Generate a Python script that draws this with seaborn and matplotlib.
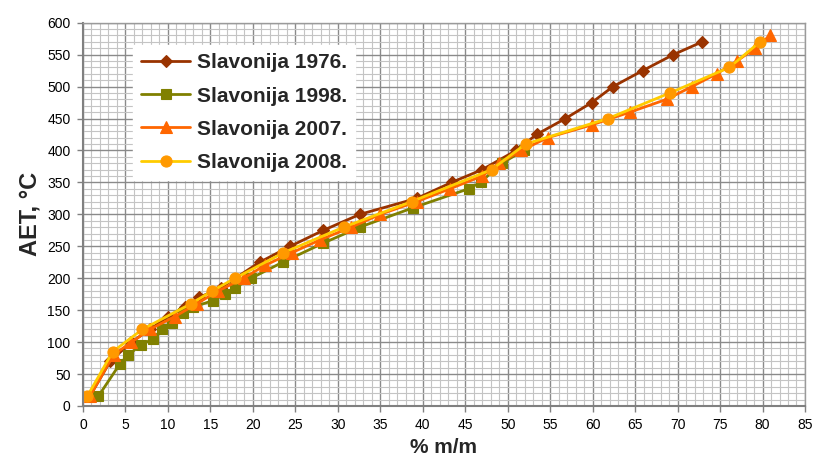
import numpy as np
import pandas as pd
import matplotlib
matplotlib.use("Agg")
import matplotlib.pyplot as plt
from matplotlib.ticker import MultipleLocator
import seaborn as sns

# Distillation curves: cumulative yield (% m/m) vs atmospheric equivalent temperature (°C)
x_1976 = [0.8, 3.2, 5.7, 7.9, 10.0, 12.0, 13.7, 16.2, 20.8, 24.4, 28.3, 32.6, 39.3,
          43.4, 47.0, 51.0, 53.4, 56.8, 59.9, 62.4, 65.9, 69.5, 72.9]
y_1976 = [15, 70, 100, 120, 140, 155, 170, 185, 225, 250, 275, 300, 325,
          350, 370, 400, 425, 450, 475, 500, 525, 550, 570]

x_1998 = [1.8, 4.3, 5.3, 6.8, 8.2, 9.3, 10.5, 11.8, 13.0, 15.3, 16.7, 17.9, 19.8,
          23.5, 28.3, 32.6, 38.8, 45.4, 46.8, 49.3, 51.9]
y_1998 = [15, 65, 80, 95, 105, 120, 130, 145, 155, 165, 175, 185, 200,
          225, 255, 280, 310, 340, 350, 380, 400]

x_2007 = [0.8, 3.6, 5.7, 7.9, 10.8, 13.4, 15.9, 18.9, 21.4, 24.6, 27.9, 31.6, 35.0,
          39.3, 43.2, 47.0, 49.0, 51.6, 54.7, 59.9, 64.4, 68.7, 71.7, 74.6, 77.0,
          79.1, 80.9]
y_2007 = [15, 80, 100, 120, 140, 160, 180, 200, 220, 240, 260, 280, 300,
          320, 340, 360, 380, 400, 420, 440, 460, 480, 500, 520, 540,
          560, 580]

x_2008 = [0.5, 3.5, 7.0, 12.7, 15.2, 17.9, 23.6, 30.7, 38.7, 48.1, 52.1, 61.8,
          69.1, 76.1, 79.7]
y_2008 = [15, 85, 120, 160, 180, 200, 240, 280, 320, 370, 410, 450,
          490, 530, 570]

series = [
    ("Slavonija 1976.", x_1976, y_1976, dict(color="#993300", marker="D", markersize=6.5,
                                           markerfacecolor="#993300", markeredgecolor="#993300")),
    ("Slavonija 1998.", x_1998, y_1998, dict(color="#808000", marker="s", markersize=7.5,
                                           markerfacecolor="#808000", markeredgecolor="#808000")),
    ("Slavonija 2007.", x_2007, y_2007, dict(color="#FF6600", marker="^", markersize=8.5,
                                           markerfacecolor="#FF6600", markeredgecolor="#FF6600")),
    ("Slavonija 2008.", x_2008, y_2008, dict(color="#FFCC00", marker="o", markersize=8,
                                           markerfacecolor="#FF9900", markeredgecolor="#FF9900")),
]

sns.set_theme(style="white")
plt.rcParams["font.family"] = ["Liberation Sans", "DejaVu Sans"]

fig = plt.figure(figsize=(8.16, 4.66), dpi=100)
ax = fig.add_axes([0.1017, 0.1288, 0.8848, 0.8225])

for label, xs, ys, style in series:
    df = pd.DataFrame({"pct": xs, "aet": ys})
    sns.lineplot(data=df, x="pct", y="aet", sort=False, ax=ax, label=label,
                 linewidth=2.0, markeredgewidth=0.8, **style)

ax.set_xlim(0, 85)
ax.set_ylim(0, 600)
ax.xaxis.set_major_locator(MultipleLocator(5))
ax.xaxis.set_minor_locator(MultipleLocator(1))
ax.yaxis.set_major_locator(MultipleLocator(50))
ax.yaxis.set_minor_locator(MultipleLocator(10))

ax.set_axisbelow(True)
ax.grid(which="minor", color="#c4c4c4", linewidth=0.8)
ax.grid(which="major", color="#8a8a8a", linewidth=1.0)

for side in ("left", "bottom"):
    ax.spines[side].set_color("#808080")
    ax.spines[side].set_linewidth(1.5)
for side in ("top", "right"):
    ax.spines[side].set_color("#9a9a9a")
    ax.spines[side].set_linewidth(1.0)

ax.tick_params(which="major", direction="out", length=4, width=1, color="#808080",
               labelsize=10, pad=5, labelcolor="#000000",
               bottom=True, left=True)
ax.tick_params(which="minor", length=0)

ax.set_xlabel("% m/m", fontsize=15, fontweight="bold", labelpad=4)
ax.set_ylabel("AET, °C", fontsize=17, fontweight="bold", labelpad=4)

leg = ax.legend(loc="upper left", bbox_to_anchor=(0.163, 0.9034),
                bbox_transform=fig.transFigure,
                prop={"size": 15, "weight": "bold"},
                frameon=True, fancybox=False, framealpha=1.0,
                edgecolor="white", facecolor="white",
                handlelength=2.35, handletextpad=0.3, labelspacing=0.68,
                borderpad=0.4, borderaxespad=0)

fig.savefig("out.png", dpi=100)
